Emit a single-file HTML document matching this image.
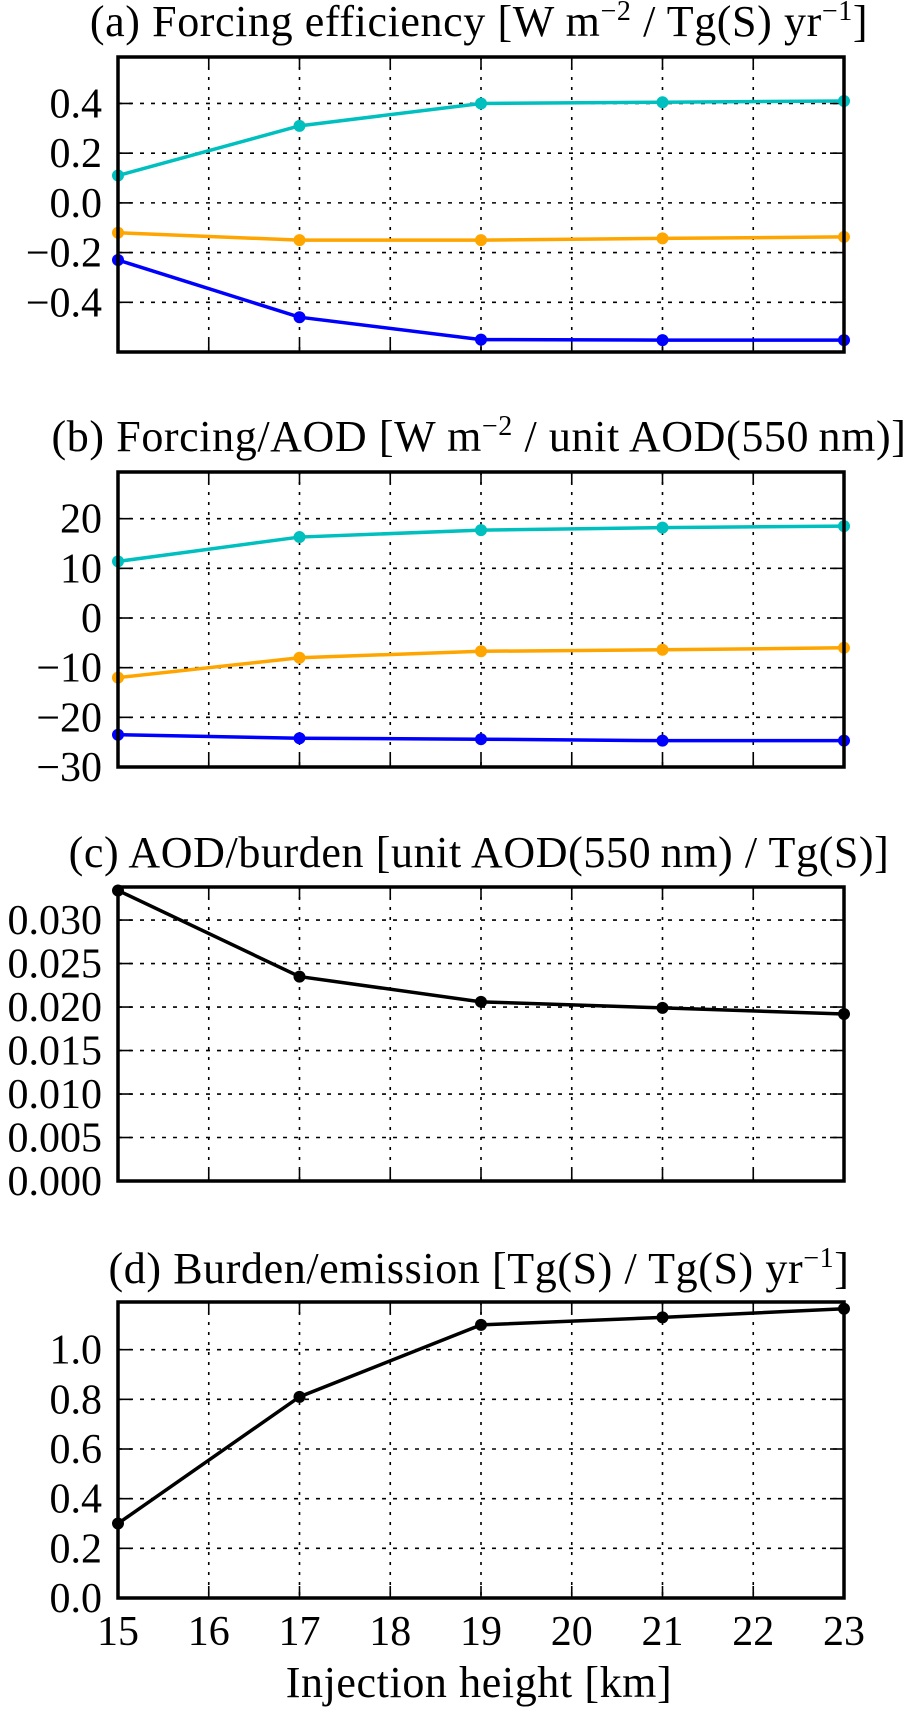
<!DOCTYPE html>
<html><head><meta charset="utf-8"><style>
html,body{margin:0;padding:0;background:#fff}
svg{display:block}
text{font-family:"Liberation Serif","DejaVu Serif",serif;fill:#000}
</style></head><body>
<svg id="fig" width="921" height="1720" viewBox="0 0 921 1720" xmlns="http://www.w3.org/2000/svg"></svg>
<script>
const heights = [15, 17, 19, 21, 23];
const xTicks = [15, 16, 17, 18, 19, 20, 21, 22, 23];
// panel a
const aCyan = [0.11, 0.31, 0.40, 0.405, 0.41];
const aOrange = [-0.12, -0.15, -0.15, -0.143, -0.137];
const aBlue = [-0.23, -0.46, -0.55, -0.552, -0.552];
const aTicks = [-0.4, -0.2, 0.0, 0.2, 0.4];
const aTickLabels = ["\u22120.4", "\u22120.2", "0.0", "0.2", "0.4"];
// panel b
const bCyan = [11.4, 16.3, 17.7, 18.2, 18.5];
const bOrange = [-12.0, -8.0, -6.7, -6.4, -6.0];
const bBlue = [-23.5, -24.2, -24.4, -24.7, -24.7];
const bTicks = [-30, -20, -10, 0, 10, 20];
const bTickLabels = ["\u221230", "\u221220", "\u221210", "0", "10", "20"];
// panel c
const cBlack = [0.0334, 0.0235, 0.0206, 0.0199, 0.0192];
const cTicks = [0, 0.005, 0.010, 0.015, 0.020, 0.025, 0.030];
const cTickLabels = ["0.000", "0.005", "0.010", "0.015", "0.020", "0.025", "0.030"];
// panel d
const dBlack = [0.30, 0.81, 1.10, 1.13, 1.165];
const dTicks = [0, 0.2, 0.4, 0.6, 0.8, 1.0];
const dTickLabels = ["0.0", "0.2", "0.4", "0.6", "0.8", "1.0"];

const NS = "http://www.w3.org/2000/svg";
const svg = document.getElementById('fig');
const X0 = 118, X1 = 844;
function xs(v){ return X0 + (v - 15) / 8 * (X1 - X0); }
function mk(tag, attrs, parent){
  const e = document.createElementNS(NS, tag);
  for (const k in attrs) e.setAttribute(k, attrs[k]);
  (parent || svg).appendChild(e);
  return e;
}
const SUP = s => '<tspan dy="-16" font-size="28">' + s + '</tspan>';
const panels = [
  {id:'a', top:57, bot:352, ymin:-0.6, ymax:0.587, ticks:aTicks, labels:aTickLabels,
   title:'(a) Forcing efficiency [W m' + SUP('\u22122') + '<tspan dy="16"> / Tg(S) yr</tspan>' + SUP('\u22121') + '<tspan dy="16">]</tspan>', ty:36,
   series:[[aCyan,'#00bfbf','cyan'],[aOrange,'#ffa500','orange'],[aBlue,'#0000ff','blue']]},
  {id:'b', top:472, bot:767, ymin:-30, ymax:29.4, ticks:bTicks, labels:bTickLabels,
   title:'(b) Forcing/AOD [W m' + SUP('\u22122') + '<tspan dy="16"> / unit AOD(550\u2009nm)]</tspan>', ty:451,
   series:[[bCyan,'#00bfbf','cyan'],[bOrange,'#ffa500','orange'],[bBlue,'#0000ff','blue']]},
  {id:'c', top:887, bot:1181, ymin:0, ymax:0.0338, ticks:cTicks, labels:cTickLabels,
   title:'(c) AOD/burden [unit AOD(550\u2009nm) / Tg(S)]', ty:867,
   series:[[cBlack,'#000','black']]},
  {id:'d', top:1302, bot:1598, ymin:0, ymax:1.192, ticks:dTicks, labels:dTickLabels,
   title:'(d) Burden/emission [Tg(S) / Tg(S) yr' + SUP('\u22121') + '<tspan dy="16">]</tspan>', ty:1283,
   series:[[dBlack,'#000','black']]}
];

panels.forEach(p => {
  const g = mk('g', {});
  
  
  const ys = v => p.bot - (v - p.ymin) / (p.ymax - p.ymin) * (p.bot - p.top);
  const t = mk('text', {x:(X0+X1)/2 - 2, y:p.ty, 'text-anchor':'middle', 'font-size':44, 'letter-spacing':'0.6'}, g);
  t.innerHTML = p.title;
  
  
  xTicks.forEach(v => {
    const l = mk('line', {x1:xs(v), x2:xs(v), y1:p.top, y2:p.bot, stroke:'#000', 'stroke-width':1.6, 'stroke-dasharray':'3,7'}, g);
    
    
    mk('line', {x1:xs(v), x2:xs(v), y1:p.bot, y2:p.bot-12, stroke:'#000', 'stroke-width':1.6}, g);
    mk('line', {x1:xs(v), x2:xs(v), y1:p.top, y2:p.top+12, stroke:'#000', 'stroke-width':1.6}, g);
  });
  p.ticks.forEach((v, i) => {
    const y = ys(v);
    const l = mk('line', {x1:X0, x2:X1, y1:y, y2:y, stroke:'#000', 'stroke-width':1.6, 'stroke-dasharray':'4,7'}, g);
    
    
    mk('line', {x1:X0, x2:X0+14, y1:y, y2:y, stroke:'#000', 'stroke-width':1.6}, g);
    mk('line', {x1:X1, x2:X1-14, y1:y, y2:y, stroke:'#000', 'stroke-width':1.6}, g);
    const tl = mk('text', {x:X0-16, y:y+14, 'text-anchor':'end', 'font-size':42}, g);
    tl.textContent = p.labels[i];
    
    
  });
  p.series.forEach(s => {
    const pts = s[0].map((v, i) => xs(heights[i]) + ',' + ys(v)).join(' ');
    const pl = mk('polyline', {points:pts, fill:'none', stroke:s[1], 'stroke-width':3.5}, g);
    
    
    s[0].forEach((v, i) => {
      const c = mk('circle', {cx:xs(heights[i]), cy:ys(v), r:6, fill:s[1]}, g);
      
      
    });
  });
  const fr = mk('rect', {x:X0, y:p.top, width:X1-X0, height:p.bot-p.top, fill:'none', stroke:'#000', 'stroke-width':3.5}, g);
  
  
});

xTicks.forEach(v => {
  const t = mk('text', {x:xs(v), y:1645, 'text-anchor':'middle', 'font-size':42});
  t.textContent = v;
  
  
});
const xl = mk('text', {x:(X0+X1)/2 - 2, y:1697, 'text-anchor':'middle', 'font-size':44, 'letter-spacing':'0.6'});
xl.textContent = 'Injection height [km]';


</script>
</body></html>
